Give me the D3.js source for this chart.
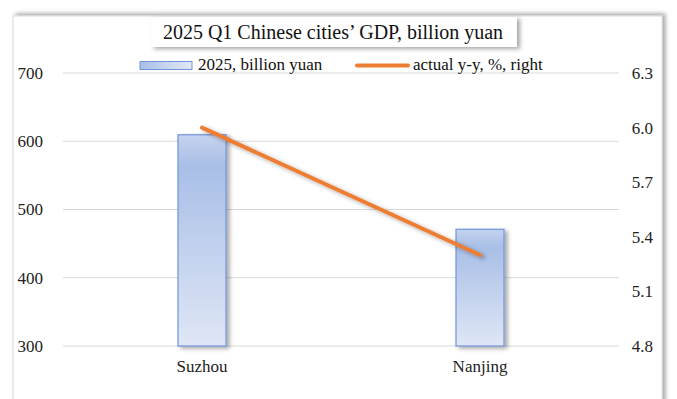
<!DOCTYPE html>
<html>
<head>
<meta charset="utf-8">
<script src="https://cdn.jsdelivr.net/npm/d3@7"></script>
<style>
  html, body { margin: 0; padding: 0; background: #fff; }
  svg { display: block; font-family: "Liberation Serif", "Times New Roman", serif; }
</style>
</head>
<body>
<div id="chart"></div>
<script>
const cities = ['Suzhou', 'Nanjing'];
const gdp = [609.5, 471];          // 2025, billion yuan
const growth = [6.0, 5.3];         // actual y-y, %, right
const leftTicks = [300, 400, 500, 600, 700];
const rightTicks = [4.8, 5.1, 5.4, 5.7, 6.0, 6.3];

const W = 677, H = 399;
const plot = { left: 63, right: 619, top: 73, bottom: 346 };

const svg = d3.select('#chart').append('svg')
  .attr('width', W)
  .attr('height', H);

const defs = svg.append('defs');

const grad = defs.append('linearGradient')
  .attr('id', 'barGrad')
  .attr('x1', 0).attr('y1', 0).attr('x2', 0).attr('y2', 1);
grad.append('stop').attr('offset', '0%').attr('stop-color', '#c5d3ee');
grad.append('stop').attr('offset', '15%').attr('stop-color', '#a9bfe7');
grad.append('stop').attr('offset', '100%').attr('stop-color', '#dfe6f5');

const legGrad = defs.append('linearGradient')
  .attr('id', 'legGrad')
  .attr('x1', 0).attr('y1', 0).attr('x2', 1).attr('y2', 0);
legGrad.append('stop').attr('offset', '0%').attr('stop-color', '#a9bfe7');
legGrad.append('stop').attr('offset', '100%').attr('stop-color', '#e3e9f6');

const shadow = defs.append('filter').attr('id', 'shadow')
  .attr('x', '-20%').attr('y', '-20%').attr('width', '150%').attr('height', '150%');
shadow.append('feDropShadow')
  .attr('dx', 3).attr('dy', 2).attr('stdDeviation', 2)
  .attr('flood-color', '#000').attr('flood-opacity', 0.35);

const frameShadow = defs.append('filter').attr('id', 'frameShadow')
  .attr('x', '-5%').attr('y', '-10%').attr('width', '110%').attr('height', '120%');
frameShadow.append('feDropShadow')
  .attr('dx', 3).attr('dy', -2).attr('stdDeviation', 2)
  .attr('flood-color', '#000').attr('flood-opacity', 0.35);

// outer frame
svg.append('rect')
  .attr('x', 13).attr('y', 16)
  .attr('width', 649).attr('height', H)
  .attr('fill', '#fff')
  .attr('stroke', '#d9d9d9')
  .attr('filter', 'url(#frameShadow)');

const x = d3.scaleBand()
  .domain(cities)
  .range([plot.left, plot.right]);

const yL = d3.scaleLinear()
  .domain([300, 700])
  .range([plot.bottom, plot.top]);

const yR = d3.scaleLinear()
  .domain([4.8, 6.3])
  .range([plot.bottom, plot.top]);

// gridlines
svg.append('g')
  .selectAll('line')
  .data(leftTicks)
  .join('line')
  .attr('x1', plot.left).attr('x2', plot.right)
  .attr('y1', d => yL(d)).attr('y2', d => yL(d))
  .attr('stroke', '#d9d9d9')
  .attr('stroke-width', 1.2);

// left axis
const leftAxis = svg.append('g')
  .attr('transform', `translate(43,0)`)
  .call(d3.axisLeft(yL).tickValues(leftTicks).tickSize(0).tickPadding(0))
  .call(g => g.select('.domain').remove());
leftAxis.selectAll('text')
  .attr('x', 0)
  .attr('text-anchor', 'end')
  .attr('font-size', 17)
  .attr('font-family', '"Liberation Serif", serif')
  .attr('fill', '#222');

// right axis
const rightAxis = svg.append('g')
  .attr('transform', `translate(653,0)`)
  .call(d3.axisRight(yR).tickValues(rightTicks).tickFormat(d3.format('.1f')).tickSize(0).tickPadding(0))
  .call(g => g.select('.domain').remove());
rightAxis.selectAll('text')
  .attr('x', 0)
  .attr('text-anchor', 'end')
  .attr('font-size', 17)
  .attr('font-family', '"Liberation Serif", serif')
  .attr('fill', '#222');

// x axis labels
const xAxis = svg.append('g')
  .attr('transform', `translate(0,${plot.bottom})`)
  .call(d3.axisBottom(x).tickSize(0).tickPadding(14))
  .call(g => g.select('.domain').remove());
xAxis.selectAll('text')
  .attr('font-size', 17)
  .attr('font-family', '"Liberation Serif", serif')
  .attr('fill', '#222');

// bars
const barW = 48;
svg.append('g')
  .selectAll('rect')
  .data(cities)
  .join('rect')
  .attr('x', (d, i) => x(d) + x.bandwidth() / 2 - barW / 2)
  .attr('y', (d, i) => yL(gdp[i]))
  .attr('width', barW)
  .attr('height', (d, i) => yL(300) - yL(gdp[i]))
  .attr('fill', 'url(#barGrad)')
  .attr('stroke', '#7195d9')
  .attr('stroke-width', 1.2)
  .attr('filter', 'url(#shadow)');

// growth line
const line = d3.line()
  .x((d, i) => x(cities[i]) + x.bandwidth() / 2)
  .y(d => yR(d));

svg.append('path')
  .datum(growth)
  .attr('d', line)
  .attr('fill', 'none')
  .attr('stroke', '#ed7d31')
  .attr('stroke-width', 4)
  .attr('stroke-linecap', 'round')
  .attr('filter', 'url(#shadow)');

// title box
const title = svg.append('g');
title.append('rect')
  .attr('x', 151).attr('y', 17)
  .attr('width', 366).attr('height', 30)
  .attr('fill', '#fff')
  .attr('filter', 'url(#shadow)');
title.append('text')
  .attr('x', 333).attr('y', 39)
  .attr('text-anchor', 'middle')
  .attr('font-size', 20)
  .attr('fill', '#111')
  .text('2025 Q1 Chinese cities’ GDP, billion yuan');

// legend
const legend = svg.append('g');
legend.append('rect')
  .attr('x', 140).attr('y', 61.5)
  .attr('width', 52).attr('height', 8)
  .attr('fill', 'url(#legGrad)')
  .attr('stroke', '#7195d9')
  .attr('stroke-width', 1);
legend.append('text')
  .attr('x', 198).attr('y', 70)
  .attr('font-size', 17)
  .attr('fill', '#111')
  .text('2025, billion yuan');
legend.append('line')
  .attr('x1', 357).attr('x2', 408)
  .attr('y1', 65.5).attr('y2', 65.5)
  .attr('stroke', '#ed7d31')
  .attr('stroke-width', 4)
  .attr('stroke-linecap', 'round');
legend.append('text')
  .attr('x', 413).attr('y', 70)
  .attr('font-size', 17)
  .attr('fill', '#111')
  .text('actual y-y, %, right');
</script>
</body>
</html>
